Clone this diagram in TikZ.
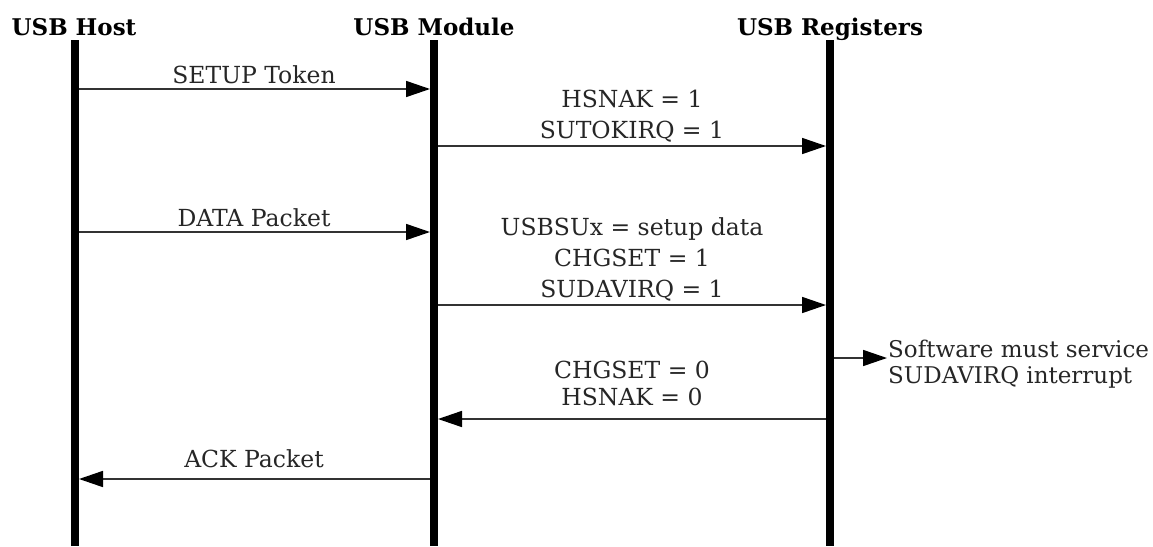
\documentclass[tikz,border=0pt]{standalone}
\usepackage{fontspec}
\setmainfont{DejaVu Serif}
\usetikzlibrary{arrows.meta}
\begin{document}
\begin{tikzpicture}[x=1pt,y=-1pt,
  lifeline/.style={line width=8pt,black},
  msg/.style={line width=1.6pt,black!80,-{Triangle[length=24pt,width=16pt,color=black]}},
  hdr/.style={font=\bfseries\fontsize{23}{27}\selectfont,inner sep=0pt,anchor=base},
  lbl/.style={font=\fontsize{23.5}{31}\selectfont,inner sep=0pt,align=center,anchor=base,text=black!85},
]
\useasboundingbox (0,0) rectangle (1153,546);
% headers
\node[hdr] (hHost) at (74,35) {USB Host};
\node[hdr] (hMod) at (434,35) {USB Module};
\node[hdr] (hReg) at (830,35) {USB Registers};
% lifelines
\coordinate (hostTop) at (75,40); \coordinate (hostBot) at (75,546);
\coordinate (modTop) at (434,40); \coordinate (modBot) at (434,546);
\coordinate (regTop) at (830,40); \coordinate (regBot) at (830,546);
\draw[lifeline] (hostTop) -- (hostBot);
\draw[lifeline] (modTop) -- (modBot);
\draw[lifeline] (regTop) -- (regBot);
% message end points
\coordinate (h1) at (79,89);   \coordinate (m1) at (430,89);
\coordinate (m2) at (438,146); \coordinate (r2) at (826,146);
\coordinate (h3) at (79,232);  \coordinate (m3) at (430,232);
\coordinate (m4) at (438,305); \coordinate (r4) at (826,305);
\coordinate (r5) at (834,358); \coordinate (s5) at (887,358);
\coordinate (r6) at (826,419); \coordinate (m6) at (438,419);
\coordinate (m7) at (430,479); \coordinate (h7) at (79,479);
% messages
\draw[msg] (h1) -- (m1);
\draw[msg] (m2) -- (r2);
\draw[msg] (h3) -- (m3);
\draw[msg] (m4) -- (r4);
\draw[msg] (r5) -- (s5);
\draw[msg] (r6) -- (m6);
\draw[msg] (m7) -- (h7);
% labels (base anchor = baseline of the last line)
\node[lbl] (l1) at (254,83) {SETUP Token};
\node[lbl] (l2) at (632,138) {HSNAK = 1\\SUTOKIRQ = 1};
\node[lbl] (l3) at (254,226) {DATA Packet};
\node[lbl] (l4) at (632,297) {USBSUx = setup data\\CHGSET = 1\\SUDAVIRQ = 1};
\node[lbl,font=\fontsize{23}{26}\selectfont,align=left,anchor=base west] (l5) at (888,383) {Software must service\\SUDAVIRQ interrupt};
\node[lbl,font=\fontsize{23.5}{27}\selectfont] (l6) at (632,405) {CHGSET = 0\\HSNAK = 0};
\node[lbl] (l7) at (254,467) {ACK Packet};
\end{tikzpicture}
\end{document}
